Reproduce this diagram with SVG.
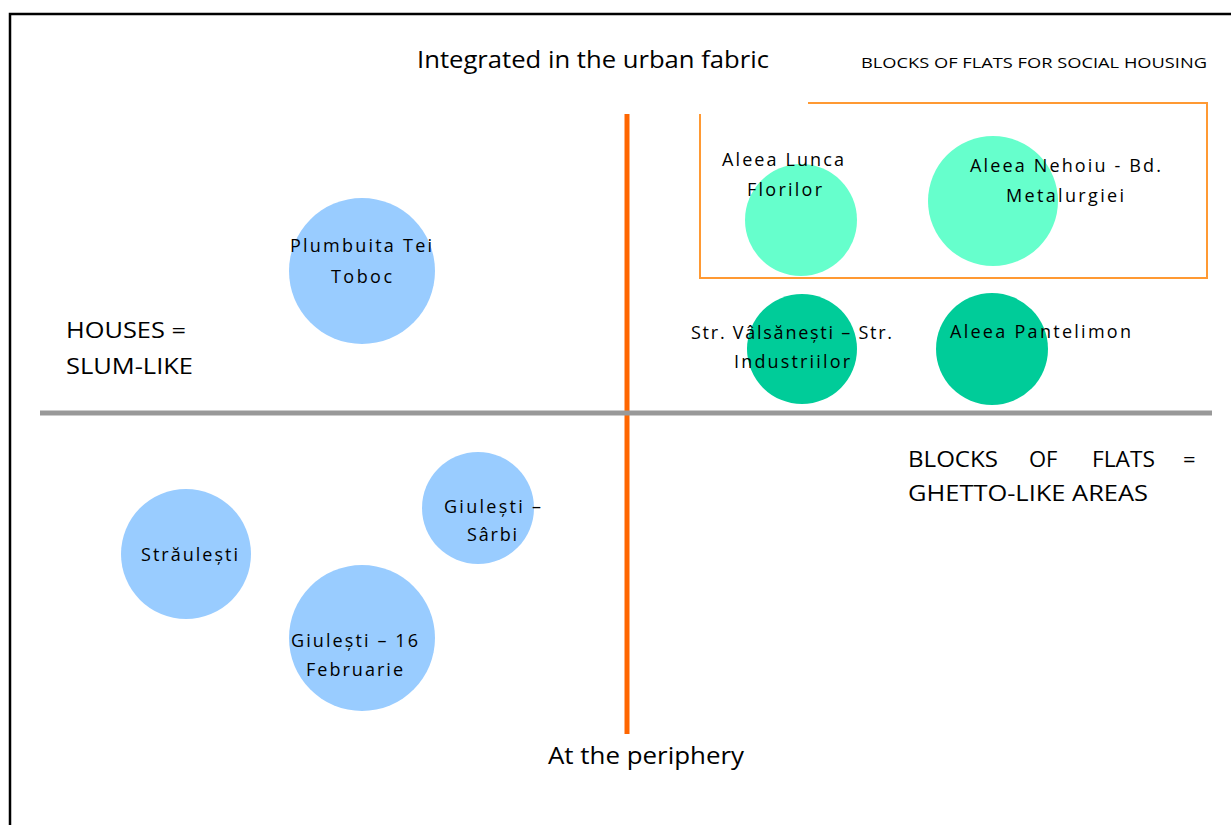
<svg xmlns="http://www.w3.org/2000/svg" width="1231" height="825" viewBox="0 0 1231 825">
<style>
text{font-family:"Open Sans","Noto Sans","Liberation Sans",sans-serif;fill:#000}
.lbl{font-size:18px}
.big{font-size:23px}
.mid{font-size:22px}
.sm{font-size:15px}
.blue{fill:#99CCFF}
.light{fill:#66FFCC}
.dark{fill:#00CC99}
</style>
<rect width="1231" height="825" fill="#fff"/>
<g id="frame">
<path d="M10 825 V14 H1231" fill="none" stroke="#000" stroke-width="2.5"/>
</g>
<g id="axes">
<line x1="627" y1="114" x2="627" y2="734" stroke="#FF6600" stroke-width="5"/>
<line x1="40" y1="413" x2="1212" y2="413" stroke="#999999" stroke-width="5"/>
</g>
<g id="social-box">
<path d="M700 114 V278 H1207 V103 H808" fill="none" stroke="#FF9933" stroke-width="2"/>
</g>
<g id="titles">
<text class="big" x="417" y="68" textLength="352" lengthAdjust="spacingAndGlyphs">Integrated in the urban fabric</text>
<text class="sm" x="861" y="68" textLength="346" lengthAdjust="spacingAndGlyphs">BLOCKS OF FLATS FOR SOCIAL HOUSING</text>
<text class="big" x="548" y="764" textLength="196" lengthAdjust="spacingAndGlyphs">At the periphery</text>
</g>
<g id="houses-label">
<text class="mid" x="66" y="338" textLength="120" lengthAdjust="spacingAndGlyphs">HOUSES =</text>
<text class="mid" x="66" y="374" textLength="127" lengthAdjust="spacingAndGlyphs">SLUM-LIKE</text>
</g>
<g id="blocks-label">
<text class="mid" y="467"><tspan x="908" textLength="90" lengthAdjust="spacingAndGlyphs">BLOCKS</tspan><tspan x="1029">OF</tspan><tspan x="1092" textLength="63" lengthAdjust="spacingAndGlyphs">FLATS</tspan><tspan x="1183">=</tspan></text>
<text class="mid" x="908" y="501" textLength="240" lengthAdjust="spacingAndGlyphs">GHETTO-LIKE AREAS</text>
</g>
<g id="plumbuita">
<circle class="blue" cx="362" cy="271" r="73"/>
<text class="lbl" x="290" y="252" textLength="142" lengthAdjust="spacing">Plumbuita Tei</text>
<text class="lbl" x="331" y="283" textLength="61" lengthAdjust="spacing">Toboc</text>
</g>
<g id="straulesti">
<circle class="blue" cx="186" cy="554" r="65"/>
<text class="lbl" x="141" y="561" textLength="97" lengthAdjust="spacing">Străulești</text>
</g>
<g id="giulesti-sarbi">
<circle class="blue" cx="478" cy="508" r="56"/>
<text class="lbl" x="444" y="513" textLength="97" lengthAdjust="spacing">Giulești –</text>
<text class="lbl" x="467" y="541" textLength="50" lengthAdjust="spacing">Sârbi</text>
</g>
<g id="giulesti-16">
<circle class="blue" cx="362" cy="638" r="73"/>
<text class="lbl" x="291" y="647" textLength="127" lengthAdjust="spacing">Giulești – 16</text>
<text class="lbl" x="306" y="676" textLength="97" lengthAdjust="spacing">Februarie</text>
</g>
<g id="lunca-florilor">
<circle class="light" cx="801" cy="220" r="56"/>
<text class="lbl" x="722" y="166" textLength="122" lengthAdjust="spacing">Aleea Lunca</text>
<text class="lbl" x="747" y="196" textLength="75" lengthAdjust="spacing">Florilor</text>
</g>
<g id="nehoiu">
<circle class="light" cx="993" cy="201" r="65"/>
<text class="lbl" x="970" y="172" textLength="191" lengthAdjust="spacing">Aleea Nehoiu - Bd.</text>
<text class="lbl" x="1006" y="202" textLength="118" lengthAdjust="spacing">Metalurgiei</text>
</g>
<g id="valsanesti">
<circle class="dark" cx="802" cy="349" r="55"/>
<text class="lbl" x="691" y="339" textLength="201" lengthAdjust="spacing">Str. Vâlsănești – Str.</text>
<text class="lbl" x="734" y="368" textLength="116" lengthAdjust="spacing">Industriilor</text>
</g>
<g id="pantelimon">
<circle class="dark" cx="992" cy="349" r="56"/>
<text class="lbl" x="950" y="338" textLength="181" lengthAdjust="spacing">Aleea Pantelimon</text>
</g>
</svg>
